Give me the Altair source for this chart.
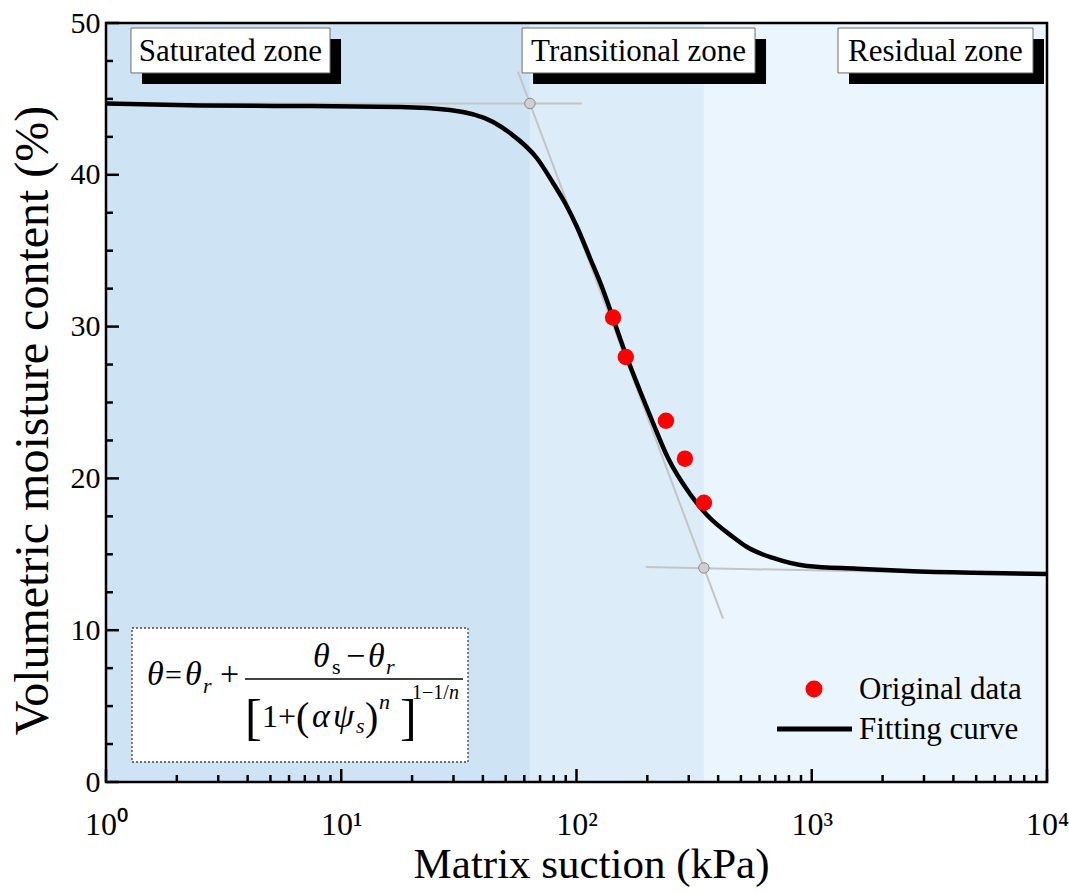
import altair as alt
import pandas as pd

SERIF = "Liberation Serif"

# ---------------- data ----------------
# Fitting curve: matrix suction (kPa) vs volumetric moisture content (%)
curve_suction = [1, 2.51, 6.68, 17.8, 29.0, 44.2, 52.2, 67.9, 79.5, 89.4, 100.5, 114.1,
                 129.7, 142.9, 162.3, 186.2, 211.5, 244.9, 303.8, 358.7, 462.7,
                 530.6, 684.3, 954, 1557, 2541, 4842, 10000]
curve_theta = [44.7, 44.57, 44.53, 44.47, 44.27, 43.48, 42.75, 41.09, 39.46, 38.14, 36.56,
               34.52, 32.41, 30.57, 28.13, 25.76, 23.65, 21.34, 18.97, 17.59, 16.14,
               15.48, 14.76, 14.23, 14.05, 13.90, 13.78, 13.70]

# Original data points
obs_suction = [143, 162, 240, 289, 348]
obs_theta = [30.6, 28.0, 23.8, 21.3, 18.4]

# Zones
zone_names = ["Saturated zone", "Transitional zone", "Residual zone"]
zone_from = [1, 63.4, 348]
zone_to = [63.4, 348, 10000]
zone_colors = ["#cee4f5", "#dcedf9", "#eaf5fd"]

# Zone label boxes (data units)
label_center = [3.38, 183.5, 3357]
label_box_from = [1.277, 58.7, 1293]
label_box_to = [8.96, 574, 8720]
label_box_low = 46.71
label_box_high = 49.67
label_y = 48.09

# Tangent construction lines
upper_s = [1, 105.5]
upper_t = [44.7, 44.7]
steep_s = [56.4, 419.5]
steep_t = [46.8, 10.76]
lower_s = [197, 10000]
lower_t = [14.16, 13.64]
knee_s = [63.4, 348]
knee_t = [44.7, 14.1]

# Tick values
x_major = [1, 10, 100, 1000, 10000]
x_minor = [m * 10 ** e for e in range(4) for m in range(2, 10)]
y_major = [0, 10, 20, 30, 40, 50]
y_minor = [2.5, 5, 7.5, 12.5, 15, 17.5, 22.5, 25, 27.5, 32.5, 35, 37.5, 42.5, 45, 47.5]

W, H = 941, 759

xscale = alt.Scale(type="log", domain=[1, 10000], nice=False)
yscale = alt.Scale(domain=[0, 50], nice=False, zero=False)

x_axis = alt.Axis(
    values=x_major,
    labelExpr="datum.value == 1 ? '10⁰' : datum.value == 10 ? '10¹' : datum.value == 100 ? '10²' : datum.value == 1000 ? '10³' : '10⁴'",
    title="Matrix suction (kPa)", titleFont=SERIF, titleFontSize=43, titleFontWeight="normal",
    titleColor="black", titleX=485, titleY=95, titleBaseline="alphabetic", titleAlign="center",
    labelFont=SERIF, labelFontSize=32, labelColor="black", labelPadding=27,
    labelFlush=False, labelOverlap=False, labelBound=False,
    ticks=False, tickSize=0, domain=False, grid=False,
)
y_axis = alt.Axis(
    values=y_major,
    title="Volumetric moisture content (%)", titleFont=SERIF, titleFontSize=48,
    titleFontWeight="normal", titleColor="black", titleX=-59, titleY=397,
    titleBaseline="alphabetic", titleAngle=270, titleAlign="center",
    labelFont=SERIF, labelFontSize=30, labelColor="black", labelPadding=6,
    labelFlush=False, labelOverlap=False, labelBound=False,
    ticks=False, tickSize=0, domain=False, grid=False,
)


def X(f):
    return alt.X(f, type="quantitative", scale=xscale, axis=x_axis)


def Y(f):
    return alt.Y(f, type="quantitative", scale=yscale, axis=y_axis)


# ---------------- layers ----------------
zones_df = pd.DataFrame({"s0": zone_from, "s1": zone_to, "name": zone_names})
zones = alt.Chart(zones_df).mark_rect().encode(
    x=X("s0"), x2="s1",
    y=alt.value(0), y2=alt.value(H),
    color=alt.Color("name:N", scale=alt.Scale(domain=zone_names, range=zone_colors), legend=None),
)
yaxis_layer = alt.Chart(pd.DataFrame({"v": [0, 50]})).mark_point(opacity=0).encode(
    y=Y("v"), x=alt.value(0)
)

labels_df = pd.DataFrame({
    "s0": label_box_from, "s1": label_box_to, "c": label_center, "name": zone_names,
    "lo": [label_box_low] * 3, "hi": [label_box_high] * 3, "ly": [label_y] * 3,
})
shadows = alt.Chart(labels_df).mark_rect(
    color="black", xOffset=11, x2Offset=11, yOffset=11, y2Offset=11
).encode(x=X("s0"), x2="s1", y=Y("hi"), y2="lo")
boxes = alt.Chart(labels_df).mark_rect(
    fill="white", stroke="#6e6e6e", strokeWidth=1
).encode(x=X("s0"), x2="s1", y=Y("hi"), y2="lo")
box_texts = alt.Chart(labels_df).mark_text(
    font=SERIF, fontSize=31, color="black", align="center", baseline="middle"
).encode(x=X("c"), y=Y("ly"), text="name:N")


def seg(s, t, name):
    return pd.DataFrame({"s": s, "t": t, "g": [name] * len(s)})


tang_df = pd.concat([seg(upper_s, upper_t, "a"), seg(steep_s, steep_t, "b"), seg(lower_s, lower_t, "c")])
tangents = alt.Chart(tang_df).mark_line(color="#c4c4c4", strokeWidth=2).encode(
    x=X("s"), y=Y("t"), detail="g:N"
)

curve_df = pd.DataFrame({"s": curve_suction, "t": curve_theta})
curve = alt.Chart(curve_df).mark_line(color="black", strokeWidth=4.5, interpolate="monotone").encode(
    x=X("s"), y=Y("t")
)

knees = alt.Chart(pd.DataFrame({"s": knee_s, "t": knee_t})).mark_point(
    shape="circle", filled=True, fill="#cfcfcf", stroke="#8a8a8a", strokeWidth=1, size=110, opacity=1
).encode(x=X("s"), y=Y("t"))

obs = alt.Chart(pd.DataFrame({"s": obs_suction, "t": obs_theta})).mark_point(
    shape="circle", filled=True, color="#ff0000", size=270, opacity=1
).encode(x=X("s"), y=Y("t"))

# inward ticks
ytick_major = alt.Chart(pd.DataFrame({"v": y_major})).mark_rule(color="black", strokeWidth=2.5).encode(
    y=Y("v"), x=alt.value(0), x2=alt.value(13))
ytick_minor = alt.Chart(pd.DataFrame({"v": y_minor})).mark_rule(color="black", strokeWidth=2.5).encode(
    y=Y("v"), x=alt.value(0), x2=alt.value(7))
xtick_major = alt.Chart(pd.DataFrame({"s": x_major})).mark_rule(color="black", strokeWidth=2.5).encode(
    x=X("s"), y=alt.value(H), y2=alt.value(H - 13))
xtick_minor = alt.Chart(pd.DataFrame({"s": x_minor})).mark_rule(color="black", strokeWidth=2.5).encode(
    x=X("s"), y=alt.value(H), y2=alt.value(H - 7))

frame = alt.Chart(pd.DataFrame({"a": [0]})).mark_rect(
    fillOpacity=0, stroke="black", strokeWidth=2.5
).encode(x=alt.value(0), x2=alt.value(W), y=alt.value(0), y2=alt.value(H))

# formula box (annotation, pixel positioned)
fbox = alt.Chart(pd.DataFrame({"a": [0]})).mark_rect(
    fill="white", stroke="#444444", strokeWidth=1.3, strokeDash=[2, 2]
).encode(x=alt.value(26), x2=alt.value(362), y=alt.value(605), y2=alt.value(739))

formula_pieces = [
    # text, x, baseline y, size, italic
    ("θ", 41, 662, 34, True),
    ("=", 59, 662, 30, False),
    ("θ", 79, 662, 34, True),
    ("r", 97, 670, 22, True),
    ("+", 114, 662, 34, False),
    ("θ", 207, 644, 34, True),
    ("s", 226, 651, 22, False),
    ("−", 240, 644, 34, False),
    ("θ", 262, 644, 34, True),
    ("r", 280, 651, 22, True),
    ("[", 139, 711, 50, False),
    ("1", 156, 704, 32, False),
    ("+", 172, 704, 32, False),
    ("(", 190, 707, 40, False),
    ("α", 206, 704, 34, True),
    ("ψ", 227, 704, 34, True),
    ("s", 250, 710, 22, True),
    (")", 259, 707, 40, False),
    ("n", 273, 686, 22, True),
    ("]", 294, 711, 50, False),
    ("1−1/", 306, 676, 20, False),
    ("n", 343, 676, 20, True),
]
formula_layers = []
for txt, px, py, fs, it in formula_pieces:
    formula_layers.append(
        alt.Chart(pd.DataFrame({"t": [txt]})).mark_text(
            font=SERIF, fontSize=fs, fontStyle="italic" if it else "normal",
            align="left", baseline="alphabetic", color="black"
        ).encode(x=alt.value(px), y=alt.value(py), text="t:N")
    )
frac_line = alt.Chart(pd.DataFrame({"a": [0]})).mark_rule(color="black", strokeWidth=1.5).encode(
    x=alt.value(139), x2=alt.value(357), y=alt.value(656))

# legend (annotation)
leg_dot = alt.Chart(pd.DataFrame({"a": [0]})).mark_point(
    shape="circle", filled=True, color="#ff0000", size=290, opacity=1
).encode(x=alt.value(708), y=alt.value(666))
leg_line = alt.Chart(pd.DataFrame({"a": [0]})).mark_rule(color="black", strokeWidth=5).encode(
    x=alt.value(671), x2=alt.value(746), y=alt.value(706))
leg_text1 = alt.Chart(pd.DataFrame({"t": ["Original data"]})).mark_text(
    font=SERIF, fontSize=31, align="left", baseline="alphabetic", color="black"
).encode(x=alt.value(753), y=alt.value(676), text="t:N")
leg_text2 = alt.Chart(pd.DataFrame({"t": ["Fitting curve"]})).mark_text(
    font=SERIF, fontSize=31, align="left", baseline="alphabetic", color="black"
).encode(x=alt.value(753), y=alt.value(716), text="t:N")

chart = alt.layer(
    zones, yaxis_layer, shadows, boxes, box_texts, tangents, curve, knees, obs,
    ytick_major, ytick_minor, xtick_major, xtick_minor, frame,
    fbox, frac_line, *formula_layers,
    leg_dot, leg_line, leg_text1, leg_text2,
).properties(
    width=W, height=H,
    autosize=alt.AutoSizeParams(type="none"),
    padding={"left": 106, "top": 23, "right": 22, "bottom": 111},
    background="white",
).configure_view(stroke=None)

chart.save("out.html", embed_options={"renderer": "svg", "actions": False})
